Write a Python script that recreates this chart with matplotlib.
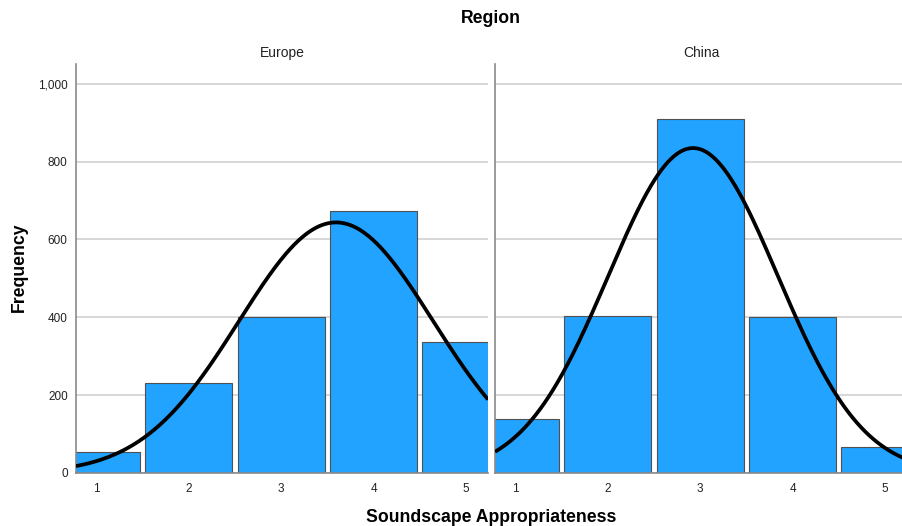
import numpy as np
import matplotlib
matplotlib.use("Agg")
import matplotlib.pyplot as plt
from matplotlib.ticker import FuncFormatter

plt.rcParams['font.family'] = ['Liberation Sans', 'DejaVu Sans']

categories = [1, 2, 3, 4, 5]
regions = ["Europe", "China"]
europe_freq = [54, 231, 400, 673, 337]
china_freq = [139, 404, 910, 401, 67]
yticks = [0, 200, 400, 600, 800, 1000]

bar_color = "#21a3ff"
edge_color = "#505050"
grid_color = "#d4d4d4"
spine_color = "#8a8a8a"

fig = plt.figure(figsize=(9.03, 5.26), dpi=100)
W = 0.4563
bottom, height = 0.1008, 0.7776
lefts = [0.0842, 0.5482]
xlim = (0.78, 5.24)
ylim = (0, 1051)

for i, (name, freq) in enumerate(zip(regions, [europe_freq, china_freq])):
    ax = fig.add_axes([lefts[i], bottom, W, height])
    x = np.array(categories, dtype=float)
    f = np.array(freq, dtype=float)
    n = f.sum()
    mu = (x * f).sum() / n
    sd = np.sqrt(((x - mu) ** 2 * f).sum() / (n - 1))
    ax.set_axisbelow(True)
    ax.yaxis.grid(True, color=grid_color, linewidth=1.3)
    ax.bar(x, f, width=0.94, color=bar_color, edgecolor=edge_color, linewidth=0.8, zorder=2)
    xs = np.linspace(xlim[0], xlim[1], 400)
    ys = n / (sd * np.sqrt(2 * np.pi)) * np.exp(-0.5 * ((xs - mu) / sd) ** 2)
    ax.plot(xs, ys, color="black", linewidth=2.7, zorder=3, solid_capstyle="butt")
    ax.set_xlim(*xlim)
    ax.set_ylim(*ylim)
    ax.set_xticks(categories)
    ax.set_xticklabels([str(c) for c in categories], fontsize=8.5)
    ax.set_yticks(yticks)
    ax.yaxis.set_major_formatter(FuncFormatter(lambda v, p: f"{int(v):,}"))
    ax.tick_params(axis='both', length=0, labelsize=8.5, colors="#222222")
    ax.tick_params(axis='x', pad=7)
    ax.tick_params(axis='y', pad=6)
    if i == 1:
        ax.set_yticklabels([])
    for s in ["top", "right"]:
        ax.spines[s].set_visible(False)
    ax.spines["left"].set_color(spine_color)
    ax.spines["bottom"].set_color(spine_color)
    ax.spines["left"].set_linewidth(1.2)
    ax.spines["bottom"].set_linewidth(1.2)
    ax.set_title(name, fontsize=10, pad=5, color="#222222")

fig.text(0.5437, 0.964, "Region", ha="center", va="center", fontsize=12.7, fontweight="bold")
fig.text(0.5437, 0.017, "Soundscape Appropriateness", ha="center", va="center", fontsize=12.7, fontweight="bold")
fig.text(0.021, 0.492, "Frequency", ha="center", va="center", rotation=90, fontsize=12.7, fontweight="bold")

fig.savefig("out.png", dpi=100)
